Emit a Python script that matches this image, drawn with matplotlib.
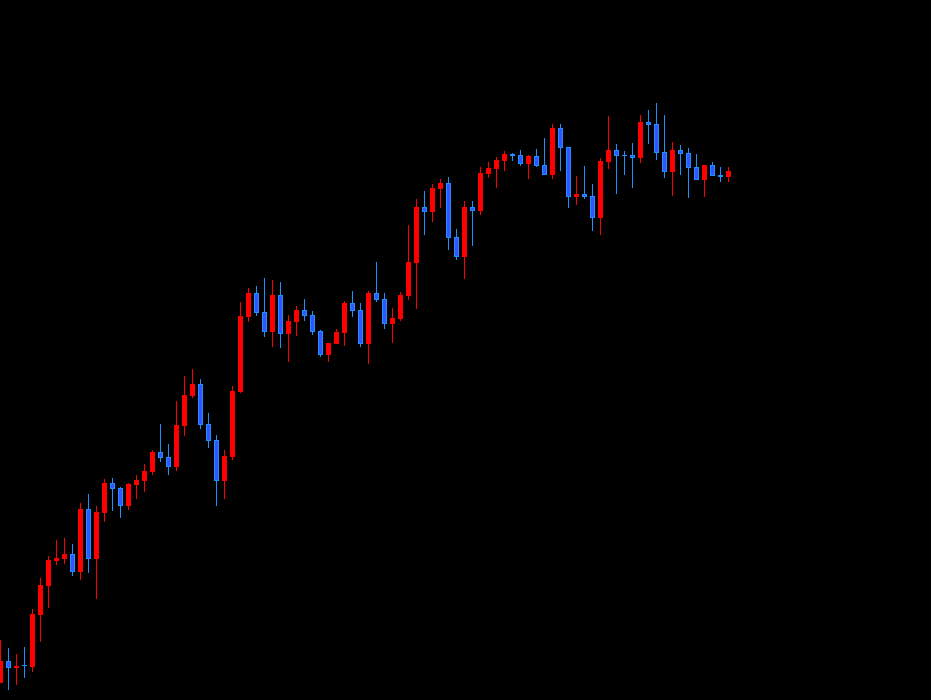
import matplotlib
matplotlib.use("Agg")
import matplotlib.pyplot as plt
import numpy as np

# ── OHLC data (arbitrary price units) ───────────────────────────────────────
opens = [17, 39, 32, 35, 33, 85, 114, 139, 141, 146,
         128, 191, 141, 187, 217, 212, 194, 215, 219, 228,
         248, 243, 233, 274, 304, 316, 276, 260, 219, 243,
         308, 383, 407, 388, 368, 405, 366, 378, 390, 385,
         369, 345, 356, 367, 397, 390, 356, 407, 401, 376,
         381, 404, 437, 493, 488, 511, 517, 463, 443, 493,
         489, 526, 531, 539, 546, 545, 536, 544, 535, 525,
         572, 553, 503, 506, 504, 482, 538, 550, 545, 545,
         542, 578, 576, 548, 528, 550, 547, 533, 520, 535,
         525, 523]
highs = [60, 52, 46, 53, 91, 122, 144, 160, 162, 156,
         197, 206, 194, 221, 222, 213, 217, 225, 236, 250,
         276, 256, 299, 324, 331, 321, 287, 265, 250, 314,
         398, 412, 414, 422, 420, 418, 385, 394, 401, 389,
         370, 357, 371, 399, 409, 397, 409, 438, 407, 392,
         408, 475, 501, 509, 516, 521, 523, 471, 499, 499,
         533, 538, 543, 549, 547, 550, 545, 551, 562, 576,
         576, 553, 524, 534, 516, 542, 584, 556, 549, 557,
         585, 590, 597, 585, 558, 555, 552, 546, 535, 538,
         533, 533]
lows = [17, 10, 15, 22, 28, 58, 92, 135, 136, 124,
        120, 127, 101, 178, 189, 182, 190, 201, 208, 225,
        238, 225, 229, 264, 302, 271, 252, 194, 201, 240,
        307, 378, 384, 363, 353, 352, 338, 364, 379, 365,
        343, 338, 356, 354, 383, 353, 336, 398, 371, 357,
        379, 400, 391, 465, 478, 492, 450, 440, 421, 454,
        485, 522, 512, 529, 539, 534, 521, 533, 525, 521,
        529, 492, 495, 501, 469, 465, 531, 506, 525, 512,
        537, 556, 540, 522, 504, 525, 502, 520, 503, 524,
        518, 518]
closes = [39, 32, 34, 34, 86, 115, 140, 142, 146, 128,
          191, 141, 188, 217, 211, 194, 216, 220, 229, 248,
          242, 233, 275, 305, 316, 275, 259, 219, 244, 309,
          384, 407, 387, 368, 405, 366, 379, 390, 384, 368,
          345, 357, 368, 397, 389, 356, 407, 400, 376, 382,
          405, 438, 493, 488, 512, 517, 462, 443, 493, 489,
          527, 532, 540, 546, 544, 536, 544, 534, 525, 572,
          552, 503, 506, 503, 482, 539, 550, 544, 544, 542,
          578, 575, 547, 528, 550, 546, 532, 520, 535, 524,
          523, 529]

UP_COLOR = "#ff0000"
DOWN_FILL = "#3355ff"
DOWN_EDGE = "#1e90ff"

o = np.array(opens, dtype=float)
h = np.array(highs, dtype=float)
l = np.array(lows, dtype=float)
c = np.array(closes, dtype=float)
x = np.arange(len(o))
up = c >= o
dn = ~up

fig = plt.figure(figsize=(9.31, 7.0), dpi=100, facecolor="black")
ax = fig.add_axes([0, 0, 1, 1])
ax.set_facecolor("black")

# one candle slot = 8 px, so 1 px = 1/8 in x; y is 1 unit per px
PX = 1 / 8

# wicks as 1 px wide bars (pixel aligned)
ax.bar(x[up], h[up] - l[up], bottom=l[up], width=PX,
       color=UP_COLOR, linewidth=0)
ax.bar(x[dn], h[dn] - l[dn], bottom=l[dn], width=PX,
       color=DOWN_EDGE, linewidth=0)

# bodies, 5 px wide
body_lo = np.minimum(o, c)
body_h = np.maximum(np.abs(c - o), 1.0)
ax.bar(x[up], body_h[up], bottom=body_lo[up], width=5 * PX,
       color=UP_COLOR, linewidth=0)
ax.bar(x[dn], body_h[dn], bottom=body_lo[dn], width=5 * PX,
       color=DOWN_EDGE, linewidth=0)
# inner fill of down candles (1 px border)
inner = dn & (body_h > 2)
ax.bar(x[inner], body_h[inner] - 2, bottom=body_lo[inner] + 1,
       width=3 * PX, color=DOWN_FILL, linewidth=0)

ax.set_xlim(-0.0625, -0.0625 + 931 / 8)
ax.set_ylim(0, 700)
ax.axis("off")

fig.savefig("out.png", dpi=100, facecolor="black")
